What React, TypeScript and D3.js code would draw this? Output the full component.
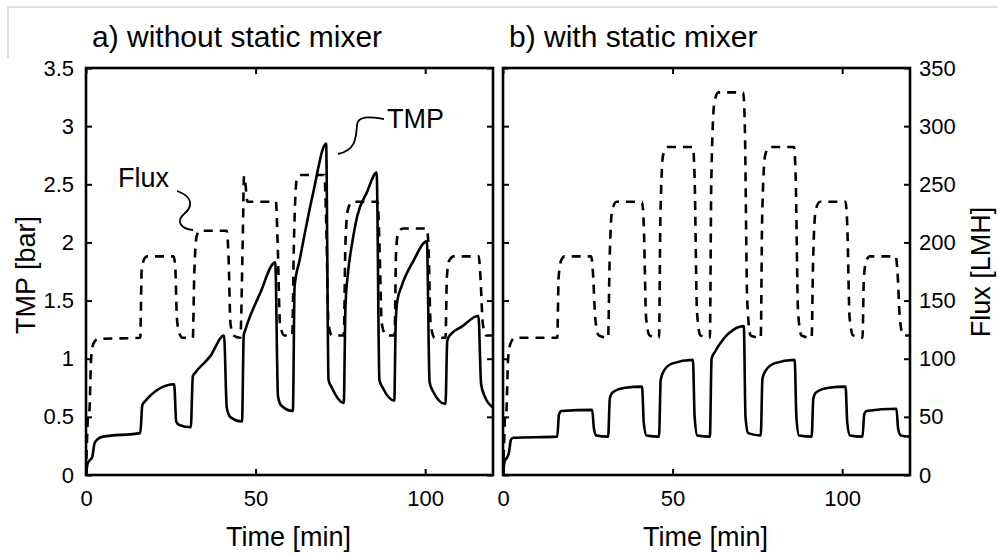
import React, { useEffect, useRef } from 'react';
import * as d3 from 'd3';

// time [min] / value pairs
const leftFluxTime = [0, 0.3, 0.6, 1.0, 1.5, 2.2, 3.5, 16, 16.4, 17.2, 18, 25.8, 26.3, 26.8, 27.5, 28.5, 31.5, 31.9, 32.6, 33.5, 41.5, 42, 42.6, 43.5, 45.5, 46.2, 46.6, 47, 47.6, 56, 56.5, 57.2, 58.5, 60.8, 61.3, 62.2, 63.5, 70.3, 70.8, 71.5, 72.5, 76, 76.5, 77.2, 78.5, 86, 86.5, 87.2, 88.5, 91, 91.4, 92, 93.5, 100.5, 101, 101.6, 102.8, 106, 106.4, 107, 108.5, 115.8, 116.3, 117, 118, 120];
const leftFlux = [0, 30, 50, 55, 100, 113, 117, 118, 175, 186, 188, 188, 180, 135, 122, 118, 118, 170, 205, 210, 210, 190, 130, 120, 118, 200, 257, 250, 235, 235, 200, 130, 120, 120, 200, 255, 258, 258, 220, 130, 120, 120, 200, 228, 235, 235, 200, 130, 120, 120, 190, 208, 212, 212, 195, 130, 118, 118, 170, 184, 188, 188, 170, 130, 120, 120];

const leftTmpTime = [0, 0.5, 1.2, 1.8, 2.5, 3.5, 5, 16, 16.6, 17, 26, 26.6, 27.5, 30.9, 31.5, 32.2, 36.6, 40.7, 41.5, 42.5, 46, 46.5, 47, 51.3, 55.8, 56.6, 57.5, 61, 61.5, 63, 67, 70.8, 71.5, 72.5, 76, 76.5, 77.3, 78.5, 80, 82.8, 85.7, 86.5, 87.5, 90.9, 91.3, 91.8, 93, 96.5, 100.5, 101.3, 102.3, 106, 106.5, 107, 111, 115.7, 116.5, 117.5, 120];
const leftTmp = [0, 0.1, 0.13, 0.15, 0.27, 0.31, 0.33, 0.36, 0.6, 0.62, 0.78, 0.46, 0.43, 0.41, 0.85, 0.88, 1.02, 1.2, 0.58, 0.5, 0.46, 1.2, 1.25, 1.56, 1.83, 0.68, 0.6, 0.55, 1.62, 1.85, 2.43, 2.85, 0.82, 0.75, 0.62, 1.45, 1.75, 2.0, 2.23, 2.43, 2.6, 0.82, 0.75, 0.64, 1.3, 1.5, 1.62, 1.84, 2.01, 0.8, 0.72, 0.61, 1.15, 1.19, 1.28, 1.37, 0.78, 0.68, 0.58];

const rightFluxTime = [0, 0.3, 0.6, 1.0, 1.5, 2.2, 3.5, 16, 16.4, 17.2, 18.2, 26, 26.5, 27.2, 28.2, 31, 31.4, 32.2, 33.5, 41, 41.5, 42.2, 43.2, 46, 46.4, 47.2, 48.5, 56, 56.5, 57.2, 58.2, 61, 61.4, 62.3, 63.5, 70.8, 71.3, 72, 73, 76, 76.4, 77.3, 78.5, 85.8, 86.3, 87, 88, 91, 91.4, 92.2, 93.5, 101, 101.5, 102.2, 103.2, 106, 106.4, 107.2, 108.2, 115.8, 116.3, 117, 118, 120];
const rightFlux = [0, 25, 50, 55, 100, 113, 118, 118, 170, 185, 188, 188, 175, 135, 120, 118, 180, 228, 235, 235, 215, 135, 120, 118, 220, 275, 282, 282, 255, 140, 120, 118, 250, 320, 329, 329, 300, 150, 120, 118, 220, 275, 282, 282, 255, 140, 120, 118, 180, 228, 235, 235, 215, 135, 120, 118, 170, 185, 188, 188, 175, 135, 120, 120];

const rightTmpTime = [0, 0.5, 1.2, 1.8, 2.3, 3, 16, 16.5, 17.2, 26.3, 26.8, 27.5, 31, 31.5, 32.3, 36, 41, 41.5, 42.3, 46, 46.5, 47.5, 50, 56, 56.5, 57.3, 61, 61.5, 62.5, 65, 68, 71, 71.5, 72.3, 76, 76.5, 77.5, 80, 86, 86.5, 87.3, 91, 91.5, 92.3, 96, 101, 101.5, 102.3, 106, 106.5, 107.2, 116, 116.5, 117.3, 120];
const rightTmp = [0, 0.12, 0.15, 0.2, 0.3, 0.32, 0.33, 0.52, 0.55, 0.56, 0.4, 0.34, 0.33, 0.66, 0.71, 0.75, 0.76, 0.45, 0.34, 0.33, 0.82, 0.9, 0.96, 0.99, 0.5, 0.34, 0.33, 1.0, 1.06, 1.17, 1.25, 1.28, 0.5, 0.36, 0.34, 0.83, 0.9, 0.96, 0.99, 0.5, 0.34, 0.33, 0.66, 0.71, 0.75, 0.76, 0.45, 0.34, 0.33, 0.52, 0.55, 0.57, 0.4, 0.34, 0.33];

const timeTicks = [0, 50, 100];
const tmpTicks = [0, 0.5, 1, 1.5, 2, 2.5, 3, 3.5];
const fluxTicks = [0, 50, 100, 150, 200, 250, 300, 350];

const FONT = 'Arial, "Liberation Sans", sans-serif';

export default function App() {
  const svgRef = useRef<SVGSVGElement | null>(null);

  useEffect(() => {
    const svg = d3.select(svgRef.current);
    svg.selectAll('*').remove();

    // faint frame from the original figure
    svg.append('path')
      .attr('d', 'M8,58 V7 H998')
      .attr('fill', 'none')
      .attr('stroke', '#d4d4d4')
      .attr('stroke-width', 1.5);

    const top = 68, bottom = 475;
    const y = d3.scaleLinear().domain([0, 3.5]).range([bottom, top]);
    const yFlux = d3.scaleLinear().domain([0, 350]).range([bottom, top]);

    const panels = [
      { x0: 86, x1: 493, title: 'a) without static mixer', fT: leftFluxTime, f: leftFlux, tT: leftTmpTime, t: leftTmp },
      { x0: 503, x1: 910, title: 'b) with static mixer', fT: rightFluxTime, f: rightFlux, tT: rightTmpTime, t: rightTmp },
    ];

    panels.forEach((p, i) => {
      const x = d3.scaleLinear().domain([0, 120]).range([p.x0, p.x1]);
      const g = svg.append('g');

      g.append('clipPath').attr('id', 'clip' + i)
        .append('rect')
        .attr('x', p.x0).attr('y', top)
        .attr('width', p.x1 - p.x0).attr('height', bottom - top);

      const fluxLine = d3.line<number>()
        .x((_, k) => x(p.fT[k]))
        .y(d => yFlux(d))
        .curve(d3.curveMonotoneX);
      const tmpLine = d3.line<number>()
        .x((_, k) => x(p.tT[k]))
        .y(d => y(d))
        .curve(d3.curveMonotoneX);

      g.append('path')
        .attr('clip-path', `url(#clip${i})`)
        .attr('d', fluxLine(p.f))
        .attr('fill', 'none')
        .attr('stroke', '#000')
        .attr('stroke-width', 2.6)
        .attr('stroke-dasharray', '9,7');

      g.append('path')
        .attr('clip-path', `url(#clip${i})`)
        .attr('d', tmpLine(p.t))
        .attr('fill', 'none')
        .attr('stroke', '#000')
        .attr('stroke-width', 2.6)
        .attr('stroke-linejoin', 'round');

      // axes, ticks pointing inward
      const bottomAx = d3.axisBottom(x).tickValues(timeTicks).tickSize(-6).tickPadding(15).tickFormat(d => String(d));
      const topAx = d3.axisTop(x).tickValues(timeTicks).tickSize(-6).tickFormat(() => '');
      const leftAx = d3.axisLeft(y).tickValues(tmpTicks).tickSize(-6).tickPadding(12)
        .tickFormat(d => (i === 0 ? String(d) : ''));
      const rightAx = d3.axisRight(yFlux).tickValues(fluxTicks).tickSize(-6).tickPadding(9)
        .tickFormat(d => (i === 1 ? String(d) : ''));

      const axes = [
        g.append('g').attr('transform', `translate(0,${bottom})`).call(bottomAx),
        g.append('g').attr('transform', `translate(0,${top})`).call(topAx),
        g.append('g').attr('transform', `translate(${p.x0},0)`).call(leftAx),
        g.append('g').attr('transform', `translate(${p.x1},0)`).call(rightAx),
      ];
      axes.forEach(a => {
        a.select('.domain').remove();
        a.selectAll('line').attr('stroke', '#000').attr('stroke-width', 2);
        a.selectAll('text').attr('font-family', FONT).attr('font-size', 22).attr('fill', '#000');
      });

      g.append('rect')
        .attr('x', p.x0).attr('y', top)
        .attr('width', p.x1 - p.x0).attr('height', bottom - top)
        .attr('fill', 'none')
        .attr('stroke', '#000')
        .attr('stroke-width', 2.6);

      g.append('text')
        .attr('x', p.x0 + 6).attr('y', 47)
        .attr('font-family', FONT).attr('font-size', 30)
        .text(p.title);

      g.append('text')
        .attr('x', (p.x0 + p.x1) / 2 - 1).attr('y', 546)
        .attr('text-anchor', 'middle')
        .attr('font-family', FONT).attr('font-size', 27)
        .text('Time [min]');
    });

    svg.append('text')
      .attr('transform', 'translate(35,275) rotate(-90)')
      .attr('text-anchor', 'middle')
      .attr('font-family', FONT).attr('font-size', 27)
      .text('TMP [bar]');

    svg.append('text')
      .attr('transform', 'translate(990,272) rotate(-90)')
      .attr('text-anchor', 'middle')
      .attr('font-family', FONT).attr('font-size', 27)
      .text('Flux [LMH]');

    // annotations
    const ann = svg.append('g').attr('fill', 'none').attr('stroke', '#000').attr('stroke-width', 1.8);
    ann.append('path').attr('d', 'M177,191 C192,196 194,206 184,214 C175,222 182,229 193,230');
    ann.append('path').attr('d', 'M384,119 C370,117 358,115 357,125 C356,138 356,150 338,154');

    svg.append('text')
      .attr('x', 118).attr('y', 187)
      .attr('font-family', FONT).attr('font-size', 27)
      .text('Flux');
    svg.append('text')
      .attr('x', 387).attr('y', 128)
      .attr('font-family', FONT).attr('font-size', 27)
      .text('TMP');
  }, []);

  return (
    <svg
      ref={svgRef}
      width={998}
      height={554}
      style={{ position: 'absolute', left: 0, top: 0, background: '#fff' }}
    />
  );
}
